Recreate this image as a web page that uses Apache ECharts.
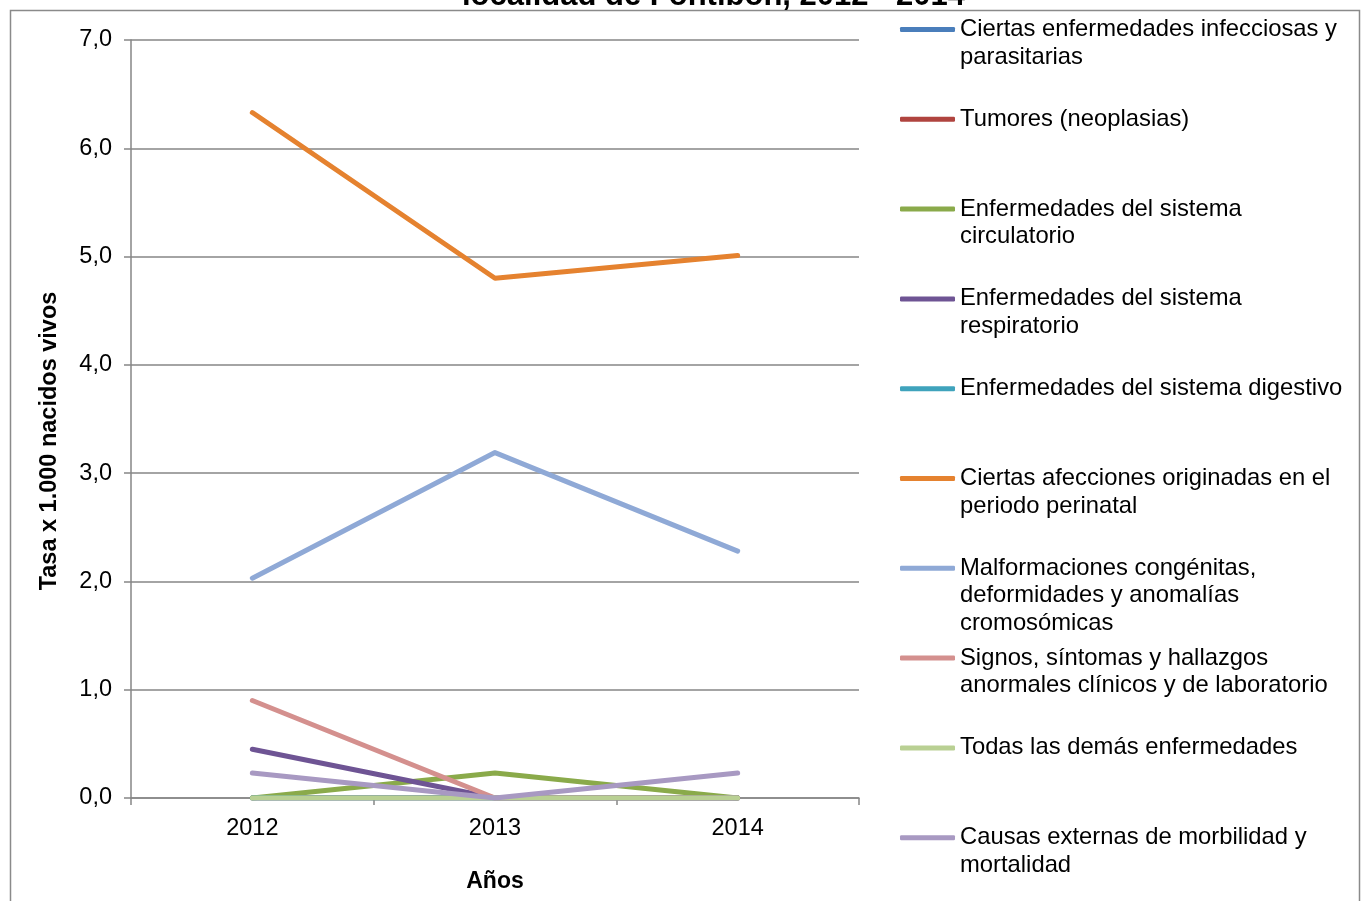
<!DOCTYPE html>
<html>
<head>
<meta charset="utf-8">
<script src="https://cdn.jsdelivr.net/npm/echarts@6/dist/echarts.min.js"></script>
<style>
html,body{margin:0;padding:0;background:#fff;}
#chart{width:1364px;height:901px;}
</style>
</head>
<body>
<div id="chart"></div>
<script>
const categories = ['2012', '2013', '2014'];
const seriesNames = [
  'Ciertas enfermedades infecciosas y parasitarias',
  'Tumores (neoplasias)',
  'Enfermedades del sistema circulatorio',
  'Enfermedades del sistema respiratorio',
  'Enfermedades del sistema digestivo',
  'Ciertas afecciones originadas en el periodo perinatal',
  'Malformaciones congénitas, deformidades y anomalías cromosómicas',
  'Signos, síntomas y hallazgos anormales clínicos y de laboratorio',
  'Todas las demás enfermedades',
  'Causas externas de morbilidad y mortalidad'
];
const legendLabels = [
  'Ciertas enfermedades infecciosas y\nparasitarias',
  'Tumores (neoplasias)',
  'Enfermedades del sistema\ncirculatorio',
  'Enfermedades del sistema\nrespiratorio',
  'Enfermedades del sistema digestivo',
  'Ciertas afecciones originadas en el\nperiodo perinatal',
  'Malformaciones congénitas,\ndeformidades y anomalías\ncromosómicas',
  'Signos, síntomas y hallazgos\nanormales clínicos y de laboratorio',
  'Todas las demás enfermedades',
  'Causas externas de morbilidad y\nmortalidad'
];
const infecciosas    = [0, 0, 0];
const tumores        = [0, 0, 0];
const circulatorio   = [0, 0.23, 0];
const respiratorio   = [0.45, 0, 0];
const digestivo      = [0, 0, 0];
const perinatal      = [6.33, 4.80, 5.01];
const malformaciones = [2.03, 3.19, 2.28];
const signos         = [0.90, 0, 0];
const demas          = [0, 0, 0];
const externas       = [0.23, 0, 0.23];
const seriesValues = [infecciosas, tumores, circulatorio, respiratorio, digestivo,
  perinatal, malformaciones, signos, demas, externas];
const colors = ['#4A7EBB', '#B0443F', '#8AAA4A', '#6E5494', '#3FA3BC',
  '#E5822F', '#8FA9D6', '#D4908E', '#B9D093', '#A899C2'];

const FONT = '"Liberation Sans", Arial, sans-serif';
const LH = 27.5;
const legends = seriesNames.map((name, i) => {
  const label = legendLabels[i];
  const n = label.split('\n').length;
  const total = 2 * n - 1;
  return {
    data: [name],
    left: 900,
    top: 29.5 + i * 89.8 - total * LH / 2,
    orient: 'vertical',
    padding: 0,
    itemWidth: 55,
    itemHeight: 5,
    icon: 'roundRect',
    selectedMode: false,
    textStyle: { fontSize: 23.8, lineHeight: LH, color: '#000', fontFamily: FONT },
    formatter: () => '\n'.repeat(n - 1) + label
  };
});

const chart = echarts.init(document.getElementById('chart'));
chart.setOption({
  animation: false,
  backgroundColor: '#fff',
  title: {
    text: 'localidad de Fontibón, 2012 - 2014',
    left: 462,
    top: -19,
    padding: 0,
    textStyle: { fontSize: 31, fontWeight: 'bold', color: '#000', fontFamily: FONT }
  },
  graphic: [{
    type: 'rect',
    shape: { x: 10.5, y: 10.5, width: 1349, height: 900 },
    style: { fill: 'none', stroke: '#8a8a8a', lineWidth: 1.5 },
    silent: true
  }],
  legend: legends,
  grid: { left: 131, right: 505, top: 40, bottom: 103, containLabel: false },
  xAxis: {
    type: 'category',
    data: categories,
    boundaryGap: true,
    name: 'Años',
    nameLocation: 'middle',
    nameGap: 72,
    nameTextStyle: { fontSize: 23, fontWeight: 'bold', color: '#000', fontFamily: FONT },
    axisLine: { lineStyle: { color: '#868686', width: 1.5 } },
    axisTick: { show: true, length: 7, lineStyle: { color: '#868686', width: 1.5 } },
    axisLabel: { fontSize: 23.5, color: '#000', fontFamily: FONT, margin: 19 }
  },
  yAxis: {
    type: 'value',
    min: 0,
    max: 7,
    interval: 1,
    name: 'Tasa x 1.000 nacidos vivos',
    nameLocation: 'middle',
    nameGap: 69,
    nameTextStyle: { fontSize: 23.5, fontWeight: 'bold', color: '#000', fontFamily: FONT, padding: [0, 44, 0, 0] },
    axisLine: { show: true, lineStyle: { color: '#868686', width: 1.5 } },
    axisTick: { show: true, length: 7, lineStyle: { color: '#868686', width: 1.5 } },
    splitLine: { show: true, lineStyle: { color: '#868686', width: 1.5 } },
    axisLabel: {
      fontSize: 23.5, color: '#000', fontFamily: FONT, margin: 19,
      formatter: v => v.toFixed(1).replace('.', ',')
    }
  },
  series: seriesNames.map((name, i) => ({
    name: name,
    type: 'line',
    data: seriesValues[i],
    color: colors[i],
    showSymbol: false,
    symbol: 'none',
    lineStyle: { width: 5, color: colors[i], cap: 'round', join: 'round' },
    emphasis: { disabled: true }
  }))
});
</script>
</body>
</html>
